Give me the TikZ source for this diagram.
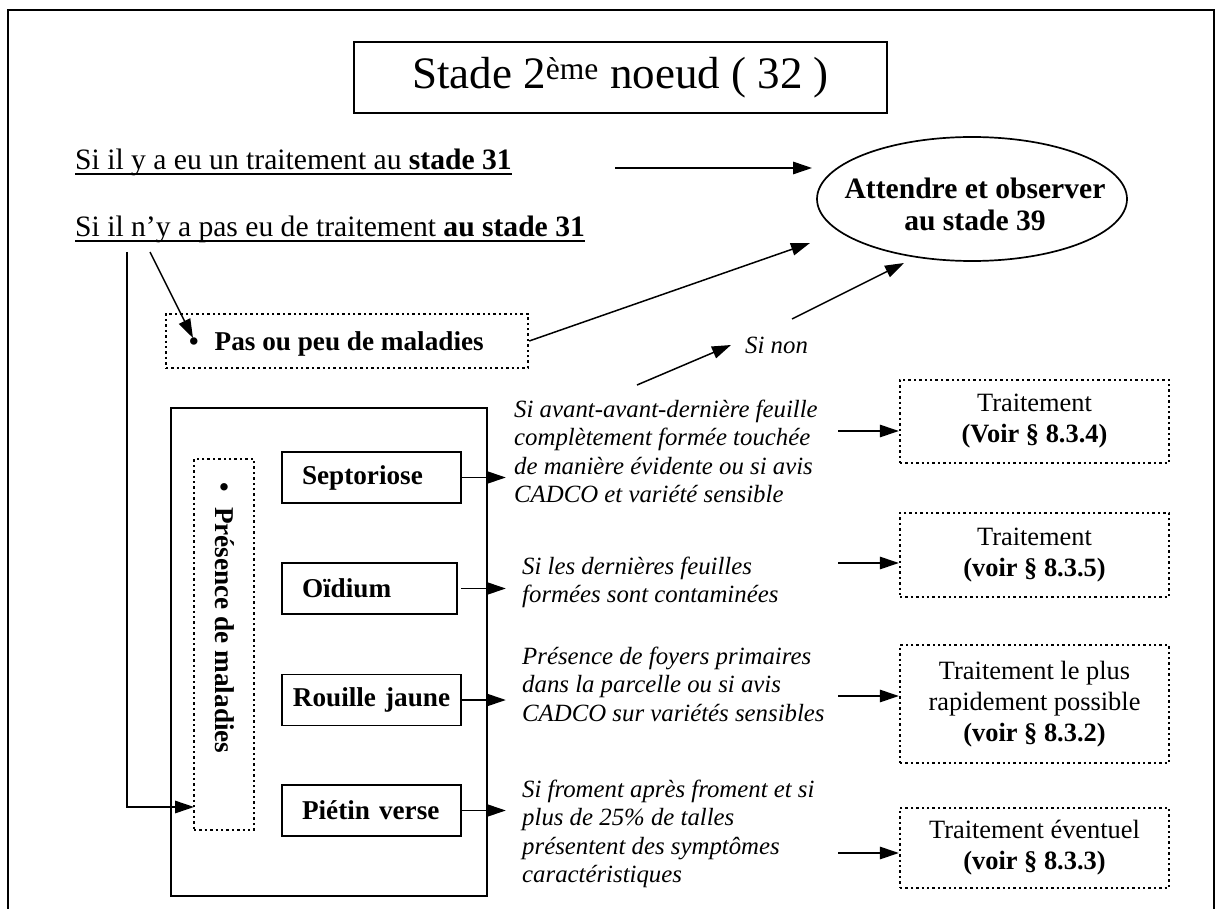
\documentclass[tikz,border=0pt]{standalone}
\usepackage{fontspec}
\setmainfont{Liberation Serif}
\usetikzlibrary{arrows.meta,shapes.geometric,calc}
\newcommand\fTitle{\fontsize{45}{50}\selectfont}
\newcommand\fBig{\fontsize{29.6}{32}\selectfont}
\newcommand\fMed{\fontsize{26.4}{31}\selectfont}
\newcommand\fMedB{\fontsize{27.2}{31}\selectfont\bfseries}
\newcommand\fIt{\fontsize{24.8}{28.3}\selectfont\itshape}
\begin{document}
\begin{tikzpicture}[x=1pt,y=-1pt,
  arr/.style={-{Triangle[length=19pt,width=12.5pt]}, line width=1.5pt},
  dotbox/.style={draw, line width=2.4pt, dash pattern=on 2.4pt off 3pt},
  solidbox/.style={draw, line width=1.6pt},
  uline/.style={line width=1.7pt},
  dbox/.style={solidbox, minimum height=51pt, inner xsep=20pt, text width=139pt, align=left, font=\fMedB},
  itxt/.style={anchor=north west, inner sep=0pt, align=left, font=\fIt},
  trbox/.style={dotbox, minimum width=269pt, align=center, font=\fMed, inner sep=0pt}]
\useasboundingbox (0,0) rectangle (1220,909);
% outer frame
\draw[line width=1.6pt] (8,909) -- (8,10) -- (1214,10) -- (1214,909);
% title
\node[solidbox, line width=1.8pt, minimum width=533pt, minimum height=71pt, inner sep=0pt] (title) at (620.5,77.5)
  {\fTitle\raisebox{-3pt}{Stade 2\textsuperscript{ème} noeud ( 32 )}};
% conditions
\node[anchor=base west, inner sep=0pt, font=\fBig] (l1) at (75,170)
  {Si il y a eu un traitement au \textbf{stade 31}};
\node[anchor=base west, inner sep=0pt, font=\fBig] (l2) at (75,237)
  {Si il n’y a pas eu de traitement \textbf{au stade 31}};
\draw[uline] ($(l1.base west)+(0,4)$) -- ($(l1.base east)+(0,4)$);
\draw[uline] ($(l2.base west)+(0,4)$) -- ($(l2.base east)+(0,4)$);
% ellipse
\node[draw, ellipse, line width=1.7pt, minimum width=310pt, minimum height=124pt, inner sep=0pt] (ell) at (972,199) {};
\node[font=\fBig\bfseries, align=center, inner sep=0pt] (ellt) at (975,204) {Attendre et observer\\au stade 39};
% pas ou peu
\node[dotbox, minimum width=362pt, minimum height=54pt, inner sep=0pt] (pas) at (347,341) {};
\node[anchor=base west, inner sep=0pt, font=\fMedB] (pastxt) at (189,350) {•\hspace{16pt}Pas ou peu de maladies};
% big box and presence
\node[solidbox, minimum width=316pt, minimum height=488pt, inner sep=0pt] (big) at (329,652) {};
\node[dotbox, minimum width=60pt, minimum height=371pt, inner sep=0pt] (pres) at (224,644.5) {};
\node[rotate=-90, inner sep=0pt, font=\fMedB] (prestxt) at (225,618) {•\hspace{15pt}Présence de maladies};
% diseases
\node[dbox] (sept) at (371.5,477.5) {Septoriose};
\node[dbox, text width=135pt] (oid) at (369.5,588.5) {Oïdium};
\node[dbox, inner xsep=8pt, text width=163pt, align=center] (rouil) at (371.5,700) {Rouille jaune};
\node[dbox] (piet) at (371.5,810.5) {Piétin verse};
% conditions text
\node[itxt] (t1) at (514,397.4) {\strut Si avant-avant-dernière feuille\\complètement formée touchée\\de manière évidente ou si avis\\CADCO et variété sensible};
\node[itxt] (t2) at (522,554.4) {\strut Si les dernières feuilles\\formées sont contaminées};
\node[itxt] (t3) at (522,644.4) {\strut Présence de foyers primaires\\dans la parcelle ou si avis\\CADCO sur variétés sensibles};
\node[itxt] (t4) at (522,777.4) {\strut Si froment après froment et si\\plus de 25\% de talles\\présentent des symptômes\\caractéristiques};
\node[anchor=west, inner sep=0pt, font=\fIt] (sinon) at (745,345) {Si non};
% treatments
\node[trbox, minimum height=83pt] (tr1) at (1034.5,421.5) {Traitement\\\textbf{(Voir § 8.3.4)}};
\node[trbox, minimum height=84pt] (tr2) at (1034.5,555) {Traitement\\\textbf{(voir § 8.3.5)}};
\node[trbox, minimum height=118pt] (tr3) at (1034.5,704) {Traitement le plus\\rapidement possible\\\textbf{(voir § 8.3.2)}};
\node[trbox, minimum height=80pt] (tr4) at (1034.5,848) {Traitement éventuel\\\textbf{(voir § 8.3.3)}};
% coordinates for free ends
\coordinate (a1s) at (615,168);
\coordinate (a1e) at (812,168);
\coordinate (l2a) at (150,252);
\coordinate (pasb) at (193,338);
\coordinate (vtop) at (127,252);
\coordinate (presin) at (194,807);
\coordinate (e2) at (810,243);
\coordinate (sn1) at (637,385);
\coordinate (sn2s) at (792,319);
\coordinate (sn2e) at (904,263);
\coordinate (r1) at (838,431);
\coordinate (r2) at (838,563);
\coordinate (r3) at (838,696);
\coordinate (r4) at (838,853);
% connectors
\draw[arr] (a1s) -- (a1e);
\draw[arr] (l2a) -- (pasb);
\draw[arr] (vtop) |- (presin);
\draw[arr] (pas.east) -- (e2);
\draw[arr] (sn1) -- ($(sinon.west)+(-14,0)$);
\draw[arr] (sn2s) -- (sn2e);
\draw[arr] (sept.east) -- ++(44,0);
\draw[arr] (oid.east) ++(3,0) -- ++(45,0);
\draw[arr] (rouil.east) -- ++(44,0);
\draw[arr] (piet.east) -- ++(44,0);
\draw[arr] (r1) -- (r1 -| tr1.west);
\draw[arr] (r2) -- (r2 -| tr2.west);
\draw[arr] (r3) -- (r3 -| tr3.west);
\draw[arr] (r4) -- (r4 -| tr4.west);
\end{tikzpicture}
\end{document}
